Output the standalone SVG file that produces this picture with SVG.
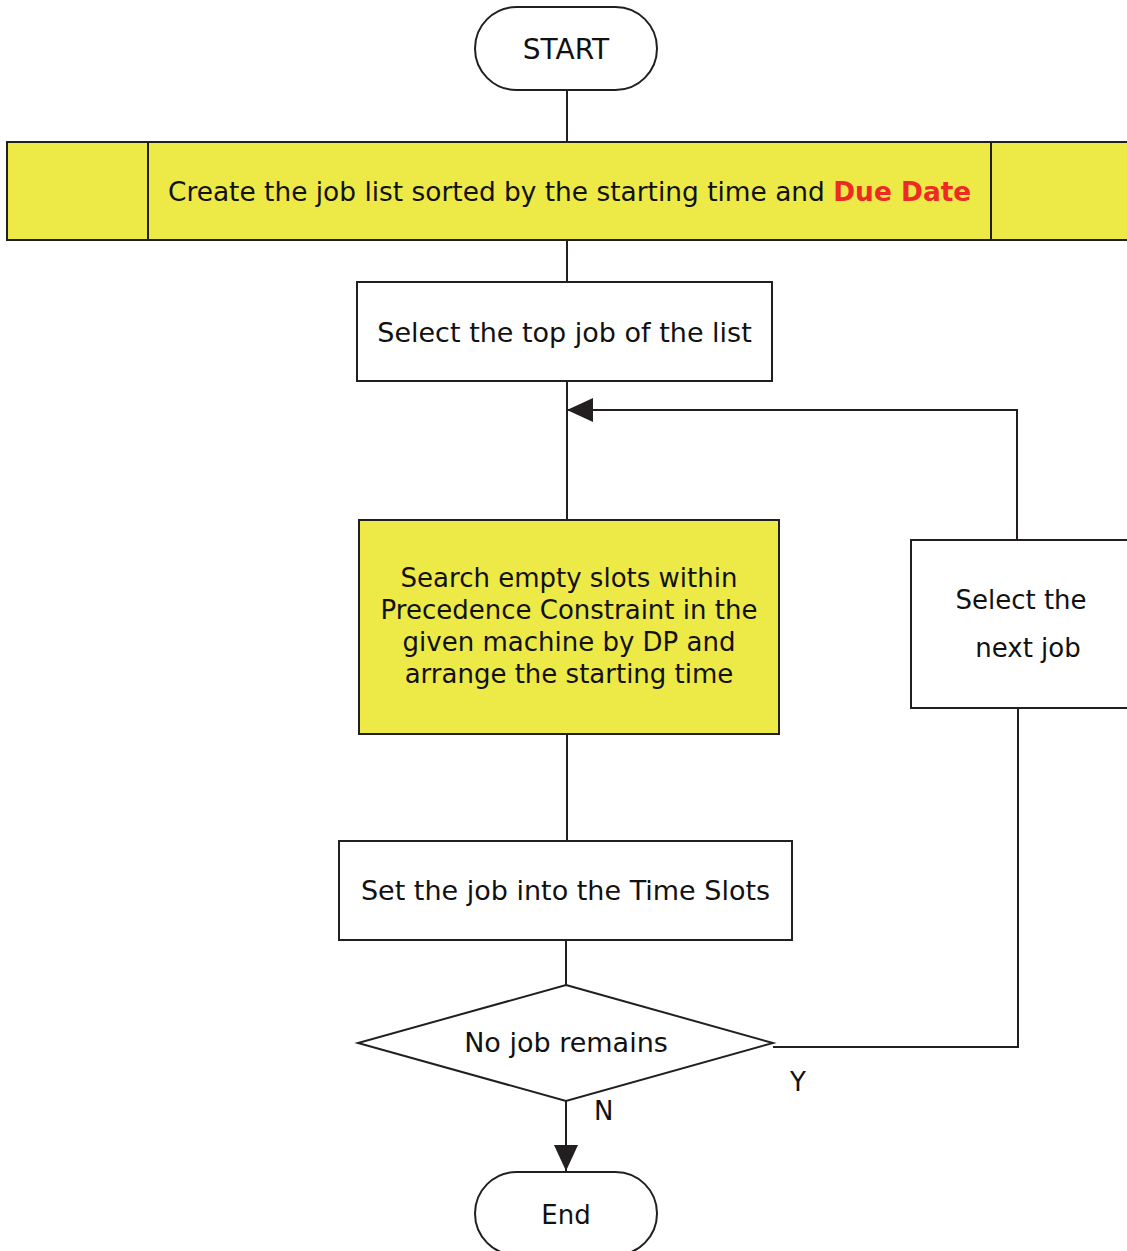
<svg xmlns="http://www.w3.org/2000/svg" width="1127" height="1251" viewBox="0 0 1127 1251">
  <defs>
    <style>
      .shape { stroke: #231f20; stroke-width: 2; }
      .white { fill: #ffffff; }
      .yellow { fill: #ede947; }
      .line { stroke: #231f20; stroke-width: 2; fill: none; }
      .label { font-family: "DejaVu Sans", Verdana, sans-serif; font-size: 26px; fill: #111111; }
      .wide { font-size: 27px; }
      .mid { text-anchor: middle; }
      .red { fill: #ee2a24; font-weight: bold; }
    </style>
    <marker id="arrow" viewBox="0 0 26 24" refX="26" refY="12" markerWidth="26" markerHeight="24" markerUnits="userSpaceOnUse" orient="auto">
      <path d="M0,0 L26,12 L0,24 Z" fill="#231f20"/>
    </marker>
  </defs>

  <g id="connectors">
    <line class="line" x1="567" y1="90" x2="567" y2="142"/>
    <line class="line" x1="567" y1="240" x2="567" y2="282"/>
    <line class="line" x1="567" y1="381" x2="567" y2="520"/>
    <line class="line" x1="567" y1="734" x2="567" y2="841"/>
    <line class="line" x1="566" y1="940" x2="566" y2="985"/>
    <line class="line" x1="566" y1="1101" x2="566" y2="1171" marker-end="url(#arrow)"/>
    <polyline class="line" points="773,1047 1018,1047 1018,708"/>
    <polyline class="line" points="1017,540 1017,410 567,410" marker-end="url(#arrow)"/>
    <text class="label" x="790" y="1091">Y</text>
    <text class="label" x="594" y="1120">N</text>
  </g>

  <g id="start">
    <rect class="shape white" x="475" y="7" width="182" height="83" rx="41.5"/>
    <text class="label mid" x="566" y="59" style="font-size:28px">START</text>
  </g>

  <g id="create-list">
    <rect class="shape yellow" x="7" y="142" width="1130" height="98"/>
    <line class="line" x1="148" y1="142" x2="148" y2="240"/>
    <line class="line" x1="991" y1="142" x2="991" y2="240"/>
    <text class="label" x="168" y="201" style="font-size:26.4px">Create the job list sorted by the starting time and <tspan class="red">Due Date</tspan></text>
  </g>

  <g id="select-top">
    <rect class="shape white" x="357" y="282" width="415" height="99"/>
    <text class="label wide mid" x="564.5" y="342">Select the top job of the list</text>
  </g>

  <g id="search-slots">
    <rect class="shape yellow" x="359" y="520" width="420" height="214"/>
    <text class="label mid" x="569" y="587">Search empty slots within</text>
    <text class="label mid" x="569" y="619">Precedence Constraint in the</text>
    <text class="label mid" x="569" y="651">given machine by DP and</text>
    <text class="label mid" x="569" y="683">arrange the starting time</text>
  </g>

  <g id="set-slots">
    <rect class="shape white" x="339" y="841" width="453" height="99"/>
    <text class="label wide mid" x="565.5" y="900">Set the job into the Time Slots</text>
  </g>

  <g id="no-job-remains">
    <polygon class="shape white" points="566,985 773,1043 566,1101 358,1043"/>
    <text class="label wide mid" x="566" y="1052">No job remains</text>
  </g>

  <g id="select-next">
    <rect class="shape white" x="911" y="540" width="230" height="168"/>
    <text class="label mid" x="1021" y="609">Select the</text>
    <text class="label mid" x="1028" y="657">next job</text>
  </g>

  <g id="end">
    <rect class="shape white" x="475" y="1172" width="182" height="83" rx="41.5"/>
    <text class="label mid" x="566" y="1224">End</text>
  </g>
</svg>
